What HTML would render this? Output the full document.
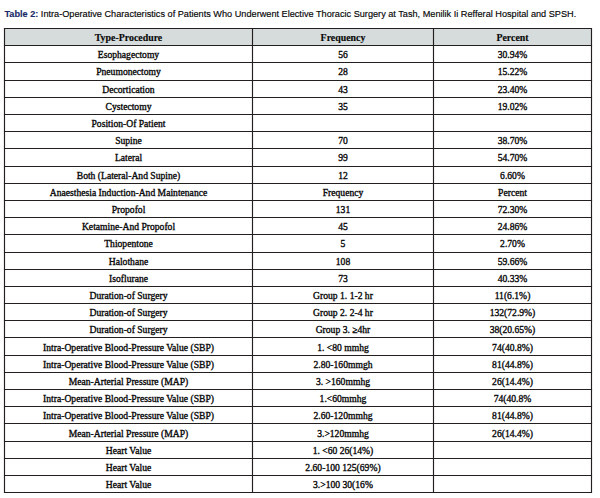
<!DOCTYPE html>
<html><head><meta charset="utf-8"><title>Table 2</title>
<style>
html,body{margin:0;padding:0;background:#fff;}
body{width:600px;height:498px;position:relative;overflow:hidden;font-family:"Liberation Serif",serif;color:#1a1a1a;}
#cap{position:absolute;left:4.4px;top:8.85px;font-family:"Liberation Sans",sans-serif;font-size:9.165px;line-height:11px;white-space:nowrap;color:#050505;-webkit-text-stroke:0.15px #050505;transform:scaleY(1.08);transform-origin:0 8.2px;}
#cap b{color:#182a68;-webkit-text-stroke:0.14px #182a68;}
svg{position:absolute;left:0;top:0;}
.c{position:absolute;text-align:center;font-size:9.62px;line-height:17.19px;height:17.19px;white-space:nowrap;color:#080808;-webkit-text-stroke:0.34px #080808;}
.h{font-weight:bold;font-size:9.88px;-webkit-text-stroke:0.15px #080808;}
</style></head><body>
<div id="cap"><b>Table 2:</b> Intra-Operative Characteristics of Patients Who Underwent Elective Thoracic Surgery at Tash, Menilik Ii Refferal Hospital and SPSH.</div>
<svg width="600" height="498" viewBox="0 0 600 498">
<rect x="4.5" y="28.5" width="587.0" height="17" fill="#d6dcdb"/>
<line x1="3.93" y1="28.50" x2="592.07" y2="28.50" stroke="#231f20" stroke-width="1.15"/>
<line x1="3.93" y1="45.50" x2="592.07" y2="45.50" stroke="#231f20" stroke-width="1.15"/>
<line x1="3.93" y1="62.50" x2="592.07" y2="62.50" stroke="#231f20" stroke-width="1.15"/>
<line x1="3.93" y1="80.50" x2="592.07" y2="80.50" stroke="#231f20" stroke-width="1.15"/>
<line x1="3.93" y1="97.50" x2="592.07" y2="97.50" stroke="#231f20" stroke-width="1.15"/>
<line x1="3.93" y1="114.50" x2="592.07" y2="114.50" stroke="#231f20" stroke-width="1.15"/>
<line x1="3.93" y1="131.50" x2="592.07" y2="131.50" stroke="#231f20" stroke-width="1.15"/>
<line x1="3.93" y1="148.50" x2="592.07" y2="148.50" stroke="#231f20" stroke-width="1.15"/>
<line x1="3.93" y1="166.50" x2="592.07" y2="166.50" stroke="#231f20" stroke-width="1.15"/>
<line x1="3.93" y1="183.50" x2="592.07" y2="183.50" stroke="#231f20" stroke-width="1.15"/>
<line x1="3.93" y1="200.50" x2="592.07" y2="200.50" stroke="#231f20" stroke-width="1.15"/>
<line x1="3.93" y1="217.50" x2="592.07" y2="217.50" stroke="#231f20" stroke-width="1.15"/>
<line x1="3.93" y1="234.50" x2="592.07" y2="234.50" stroke="#231f20" stroke-width="1.15"/>
<line x1="3.93" y1="252.50" x2="592.07" y2="252.50" stroke="#231f20" stroke-width="1.15"/>
<line x1="3.93" y1="269.50" x2="592.07" y2="269.50" stroke="#231f20" stroke-width="1.15"/>
<line x1="3.93" y1="286.50" x2="592.07" y2="286.50" stroke="#231f20" stroke-width="1.15"/>
<line x1="3.93" y1="303.50" x2="592.07" y2="303.50" stroke="#231f20" stroke-width="1.15"/>
<line x1="3.93" y1="320.50" x2="592.07" y2="320.50" stroke="#231f20" stroke-width="1.15"/>
<line x1="3.93" y1="337.50" x2="592.07" y2="337.50" stroke="#231f20" stroke-width="1.15"/>
<line x1="3.93" y1="355.50" x2="592.07" y2="355.50" stroke="#231f20" stroke-width="1.15"/>
<line x1="3.93" y1="372.50" x2="592.07" y2="372.50" stroke="#231f20" stroke-width="1.15"/>
<line x1="3.93" y1="389.50" x2="592.07" y2="389.50" stroke="#231f20" stroke-width="1.15"/>
<line x1="3.93" y1="406.50" x2="592.07" y2="406.50" stroke="#231f20" stroke-width="1.15"/>
<line x1="3.93" y1="423.50" x2="592.07" y2="423.50" stroke="#231f20" stroke-width="1.15"/>
<line x1="3.93" y1="441.50" x2="592.07" y2="441.50" stroke="#231f20" stroke-width="1.15"/>
<line x1="3.93" y1="458.50" x2="592.07" y2="458.50" stroke="#231f20" stroke-width="1.15"/>
<line x1="3.93" y1="475.50" x2="592.07" y2="475.50" stroke="#231f20" stroke-width="1.15"/>
<line x1="3.93" y1="492.50" x2="592.07" y2="492.50" stroke="#231f20" stroke-width="1.15"/>
<line x1="4.5" y1="28.50" x2="4.5" y2="492.50" stroke="#231f20" stroke-width="1.15"/>
<line x1="252.5" y1="28.50" x2="252.5" y2="492.50" stroke="#231f20" stroke-width="1.15"/>
<line x1="433.5" y1="28.50" x2="433.5" y2="492.50" stroke="#231f20" stroke-width="1.15"/>
<line x1="591.5" y1="28.50" x2="591.5" y2="492.50" stroke="#231f20" stroke-width="1.15"/>
</svg>
<div class="c h" style="left:4.5px;width:248.0px;top:29.00px">Type-Procedure</div>
<div class="c h" style="left:252.5px;width:181.0px;top:29.00px">Frequency</div>
<div class="c h" style="left:433.5px;width:158.0px;top:29.00px">Percent</div>
<div class="c" style="left:4.5px;width:248.0px;top:46.20px">Esophagectomy</div>
<div class="c" style="left:252.5px;width:181.0px;top:46.20px">56</div>
<div class="c" style="left:433.5px;width:158.0px;top:46.20px">30.94%</div>
<div class="c" style="left:4.5px;width:248.0px;top:63.40px">Pneumonectomy</div>
<div class="c" style="left:252.5px;width:181.0px;top:63.40px">28</div>
<div class="c" style="left:433.5px;width:158.0px;top:63.40px">15.22%</div>
<div class="c" style="left:4.5px;width:248.0px;top:80.61px">Decortication</div>
<div class="c" style="left:252.5px;width:181.0px;top:80.61px">43</div>
<div class="c" style="left:433.5px;width:158.0px;top:80.61px">23.40%</div>
<div class="c" style="left:4.5px;width:248.0px;top:97.81px">Cystectomy</div>
<div class="c" style="left:252.5px;width:181.0px;top:97.81px">35</div>
<div class="c" style="left:433.5px;width:158.0px;top:97.81px">19.02%</div>
<div class="c" style="left:4.5px;width:248.0px;top:115.01px">Position-Of Patient</div>
<div class="c" style="left:4.5px;width:248.0px;top:132.21px">Supine</div>
<div class="c" style="left:252.5px;width:181.0px;top:132.21px">70</div>
<div class="c" style="left:433.5px;width:158.0px;top:132.21px">38.70%</div>
<div class="c" style="left:4.5px;width:248.0px;top:149.41px">Lateral</div>
<div class="c" style="left:252.5px;width:181.0px;top:149.41px">99</div>
<div class="c" style="left:433.5px;width:158.0px;top:149.41px">54.70%</div>
<div class="c" style="left:4.5px;width:248.0px;top:166.62px">Both (Lateral-And Supine)</div>
<div class="c" style="left:252.5px;width:181.0px;top:166.62px">12</div>
<div class="c" style="left:433.5px;width:158.0px;top:166.62px">6.60%</div>
<div class="c" style="left:4.5px;width:248.0px;top:183.82px">Anaesthesia Induction-And Maintenance</div>
<div class="c" style="left:252.5px;width:181.0px;top:183.82px">Frequency</div>
<div class="c" style="left:433.5px;width:158.0px;top:183.82px">Percent</div>
<div class="c" style="left:4.5px;width:248.0px;top:201.02px">Propofol</div>
<div class="c" style="left:252.5px;width:181.0px;top:201.02px">131</div>
<div class="c" style="left:433.5px;width:158.0px;top:201.02px">72.30%</div>
<div class="c" style="left:4.5px;width:248.0px;top:218.22px">Ketamine-And Propofol</div>
<div class="c" style="left:252.5px;width:181.0px;top:218.22px">45</div>
<div class="c" style="left:433.5px;width:158.0px;top:218.22px">24.86%</div>
<div class="c" style="left:4.5px;width:248.0px;top:235.42px">Thiopentone</div>
<div class="c" style="left:252.5px;width:181.0px;top:235.42px">5</div>
<div class="c" style="left:433.5px;width:158.0px;top:235.42px">2.70%</div>
<div class="c" style="left:4.5px;width:248.0px;top:252.63px">Halothane</div>
<div class="c" style="left:252.5px;width:181.0px;top:252.63px">108</div>
<div class="c" style="left:433.5px;width:158.0px;top:252.63px">59.66%</div>
<div class="c" style="left:4.5px;width:248.0px;top:269.83px">Isoflurane</div>
<div class="c" style="left:252.5px;width:181.0px;top:269.83px">73</div>
<div class="c" style="left:433.5px;width:158.0px;top:269.83px">40.33%</div>
<div class="c" style="left:4.5px;width:248.0px;top:287.03px">Duration-of Surgery</div>
<div class="c" style="left:252.5px;width:181.0px;top:287.03px">Group 1. 1-2 hr</div>
<div class="c" style="left:433.5px;width:158.0px;top:287.03px">11(6.1%)</div>
<div class="c" style="left:4.5px;width:248.0px;top:304.23px">Duration-of Surgery</div>
<div class="c" style="left:252.5px;width:181.0px;top:304.23px">Group 2. 2-4 hr</div>
<div class="c" style="left:433.5px;width:158.0px;top:304.23px">132(72.9%)</div>
<div class="c" style="left:4.5px;width:248.0px;top:321.43px">Duration-of Surgery</div>
<div class="c" style="left:252.5px;width:181.0px;top:321.43px">Group 3. ≥4hr</div>
<div class="c" style="left:433.5px;width:158.0px;top:321.43px">38(20.65%)</div>
<div class="c" style="left:4.5px;width:248.0px;top:338.64px">Intra-Operative Blood-Pressure Value (SBP)</div>
<div class="c" style="left:252.5px;width:181.0px;top:338.64px">1. &lt;80 mmhg</div>
<div class="c" style="left:433.5px;width:158.0px;top:338.64px">74(40.8%)</div>
<div class="c" style="left:4.5px;width:248.0px;top:355.84px">Intra-Operative Blood-Pressure Value (SBP)</div>
<div class="c" style="left:252.5px;width:181.0px;top:355.84px">2.80-160mmgh</div>
<div class="c" style="left:433.5px;width:158.0px;top:355.84px">81(44.8%)</div>
<div class="c" style="left:4.5px;width:248.0px;top:373.04px">Mean-Arterial Pressure (MAP)</div>
<div class="c" style="left:252.5px;width:181.0px;top:373.04px">3. &gt;160mmhg</div>
<div class="c" style="left:433.5px;width:158.0px;top:373.04px">26(14.4%)</div>
<div class="c" style="left:4.5px;width:248.0px;top:390.24px">Intra-Operative Blood-Pressure Value (SBP)</div>
<div class="c" style="left:252.5px;width:181.0px;top:390.24px">1.&lt;60mmhg</div>
<div class="c" style="left:433.5px;width:158.0px;top:390.24px">74(40.8%</div>
<div class="c" style="left:4.5px;width:248.0px;top:407.44px">Intra-Operative Blood-Pressure Value (SBP)</div>
<div class="c" style="left:252.5px;width:181.0px;top:407.44px">2.60-120mmhg</div>
<div class="c" style="left:433.5px;width:158.0px;top:407.44px">81(44.8%)</div>
<div class="c" style="left:4.5px;width:248.0px;top:424.65px">Mean-Arterial Pressure (MAP)</div>
<div class="c" style="left:252.5px;width:181.0px;top:424.65px">3.&gt;120mmhg</div>
<div class="c" style="left:433.5px;width:158.0px;top:424.65px">26(14.4%)</div>
<div class="c" style="left:4.5px;width:248.0px;top:441.85px">Heart Value</div>
<div class="c" style="left:252.5px;width:181.0px;top:441.85px">1. &lt;60 26(14%)</div>
<div class="c" style="left:4.5px;width:248.0px;top:459.05px">Heart Value</div>
<div class="c" style="left:252.5px;width:181.0px;top:459.05px">2.60-100 125(69%)</div>
<div class="c" style="left:4.5px;width:248.0px;top:476.25px">Heart Value</div>
<div class="c" style="left:252.5px;width:181.0px;top:476.25px">3.&gt;100 30(16%</div>
</body></html>
